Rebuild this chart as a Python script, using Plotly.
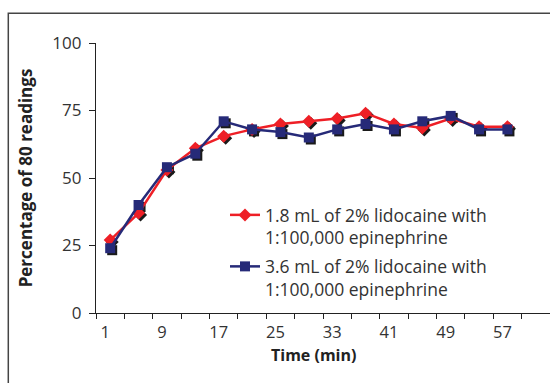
import plotly.graph_objects as go

times = [1, 5, 9, 13, 17, 21, 25, 29, 33, 37, 41, 45, 49, 53, 57]
tick_labels = [1, 9, 17, 25, 33, 41, 49, 57]
low_dose = [27, 37, 53, 61, 65.5, 68, 70, 71, 72, 74, 70, 68.5, 72, 69, 69]
high_dose = [24, 40, 54, 59, 71, 68, 67, 65, 68, 70, 68, 71, 73, 68, 68]
name_low = "1.8 mL of 2% lidocaine with<br>1:100,000 epinephrine"
name_high = "3.6 mL of 2% lidocaine with<br>1:100,000 epinephrine"

RED = "#EE1F26"
NAVY = "#262A78"
SHADOW = "#1a1a1a"
FONT = "Open Sans"
TXT = "#333333"

XR = [-1, 63]
YR = [0, 100]
# shadow offset: ~2 px right, ~2 px down
dx = 2 * (XR[1] - XR[0]) / 454
dy = 2 * (YR[1] - YR[0]) / 270

fig = go.Figure()
# empty trace so the visible base axes are built
fig.add_trace(go.Scatter(x=[None], y=[None], mode="markers", showlegend=False,
                         hoverinfo="skip", xaxis="x", yaxis="y"))
# marker shadows (drawn on a shifted, hidden overlay axis pair)
fig.add_trace(go.Scatter(
    x=times, y=low_dose, mode="markers", showlegend=False, hoverinfo="skip",
    marker=dict(symbol="diamond", size=10, color=SHADOW),
    xaxis="x2", yaxis="y2",
))
fig.add_trace(go.Scatter(
    x=times, y=high_dose, mode="markers", showlegend=False, hoverinfo="skip",
    marker=dict(symbol="square", size=10, color=SHADOW),
    xaxis="x2", yaxis="y2",
))
fig.add_trace(go.Scatter(
    x=times, y=low_dose, name=name_low, mode="lines+markers",
    line=dict(color=RED, width=2.5),
    marker=dict(symbol="diamond", size=10, color=RED),
    legendgroup="a", xaxis="x3", yaxis="y3",
))
fig.add_trace(go.Scatter(
    x=times, y=high_dose, name=name_high, mode="lines+markers",
    line=dict(color=NAVY, width=2.5),
    marker=dict(symbol="square", size=10, color=NAVY),
    legendgroup="b", xaxis="x3", yaxis="y3",
))

hidden = dict(visible=False, showgrid=False, zeroline=False, fixedrange=True)

fig.update_layout(
    width=550, height=383,
    margin=dict(l=96, r=0, t=43, b=70),
    paper_bgcolor="white", plot_bgcolor="white",
    font=dict(family=FONT, size=16, color=TXT),
    showlegend=True,
    legend=dict(
        x=(225 - 96) / 454, y=(313 - 197) / 270, xanchor="left", yanchor="top",
        bgcolor="rgba(0,0,0,0)", font=dict(family=FONT, size=17.5, color=TXT),
        valign="top", traceorder="grouped", tracegroupgap=3,
        itemwidth=30,
    ),
    xaxis=dict(
        range=XR, showgrid=False, zeroline=False,
        showline=True, linecolor="#222222", linewidth=1.3,
        tickmode="array", tickvals=tick_labels, ticktext=[str(t) for t in tick_labels],
        ticks="", ticklabelshift=-5, ticklabelstandoff=4,
        tickfont=dict(family=FONT, size=16.5, color=TXT),
        minor=dict(tickmode="linear", tick0=-1, dtick=4, ticks="outside",
                   ticklen=5, tickcolor="#222222", tickwidth=1.2, showgrid=False),
    ),
    yaxis=dict(
        range=YR, showgrid=False, zeroline=False,
        showline=True, linecolor="#222222", linewidth=1.3,
        tickmode="array", tickvals=[0, 25, 50, 75, 100],
        ticks="outside", ticklen=6, tickcolor="#222222", tickwidth=1.2,
        ticklabelstandoff=4,
        tickfont=dict(family=FONT, size=17, color=TXT),
        title=dict(text="<b>Percentage of 80 readings</b>", standoff=15,
                   font=dict(family=FONT, size=17, color="#222222")),
    ),
    xaxis2=dict(hidden, overlaying="x", range=[XR[0] - dx, XR[1] - dx]),
    yaxis2=dict(hidden, overlaying="y", range=[YR[0] + dy, YR[1] + dy]),
    xaxis3=dict(hidden, overlaying="x", range=XR),
    yaxis3=dict(hidden, overlaying="y", range=YR),
    annotations=[dict(
        text="<b>Time (min)</b>", xref="paper", yref="paper",
        x=(313 - 96) / 454, y=(313 - 355) / 270, xanchor="center", yanchor="middle",
        showarrow=False, font=dict(family=FONT, size=16, color="#222222"),
    )],
    shapes=[dict(
        type="rect", xref="paper", yref="paper",
        x0=(8.3 - 96) / 454, y0=-0.5, x1=1.2, y1=(313 - 13.3) / 270,
        line=dict(color="#444444", width=1.5), fillcolor="rgba(0,0,0,0)", layer="below",
    )],
)

fig.write_html("out.html", config={"displayModeBar": False},
               post_script="document.body.style.margin='0';")
